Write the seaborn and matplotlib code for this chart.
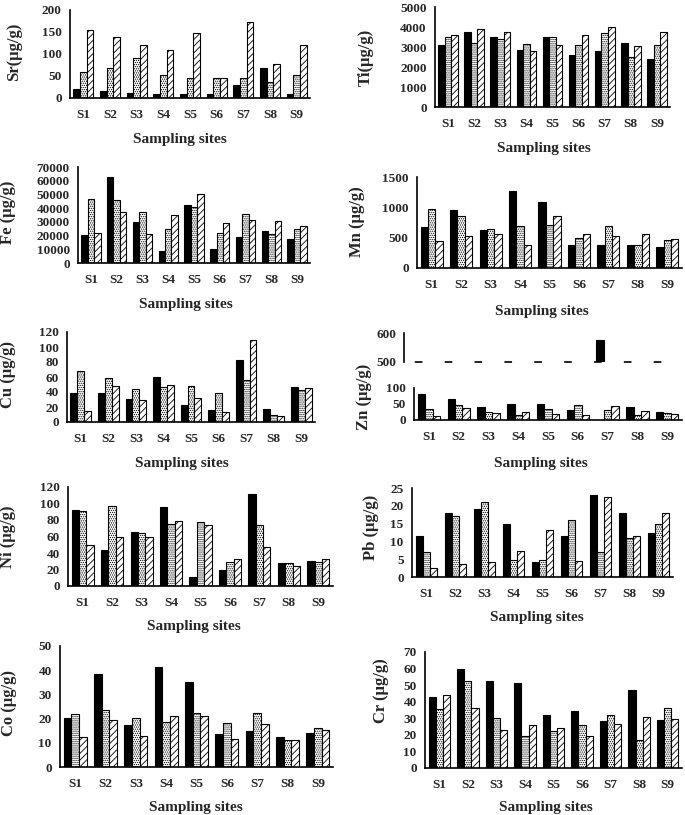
import numpy as np
import pandas as pd
import matplotlib
matplotlib.use("Agg")
import matplotlib.pyplot as plt
from matplotlib.ticker import StrMethodFormatter
import seaborn as sns

sites = ["S1", "S2", "S3", "S4", "S5", "S6", "S7", "S8", "S9"]
series_names = ["Series 1", "Series 2", "Series 3"]

sr_1 = [20, 15, 12, 10, 8, 8, 30, 68, 10]
sr_2 = [60, 68, 90, 53, 46, 45, 45, 37, 52]
sr_3 = [155, 138, 121, 110, 148, 45, 173, 77, 120]

ti_1 = [3100, 3750, 3500, 2850, 3500, 2580, 2800, 3200, 2420]
ti_2 = [3480, 3200, 3400, 3130, 3500, 3120, 3700, 2520, 3080]
ti_3 = [3620, 3880, 3730, 2820, 3120, 3580, 3980, 3050, 3730]

fe_1 = [20500, 63000, 30000, 8500, 42500, 10500, 19000, 23000, 17500]
fe_2 = [47000, 46000, 37000, 24500, 41000, 22000, 36000, 21500, 25000]
fe_3 = [22000, 37500, 21000, 35000, 50000, 29000, 31500, 30500, 27000]

mn_1 = [680, 960, 620, 1275, 1088, 385, 385, 385, 346]
mn_2 = [972, 850, 643, 687, 714, 495, 687, 385, 467]
mn_3 = [440, 522, 566, 374, 863, 566, 533, 566, 483]

cu_1 = [39, 39, 31, 60, 23, 15.5, 83, 17, 47]
cu_2 = [68, 58.7, 43.5, 47, 47.5, 38.7, 56.5, 10, 42.7]
cu_3 = [14.7, 48.4, 29.8, 50, 32, 13.3, 110, 7.5, 45.8]

zn_1 = [82, 66, 42, 50, 50, 32, 575, 40, 24]
zn_2 = [35, 46, 26, 16, 34, 46, 31, 15, 21]
zn_3 = [13, 37, 21, 24, 18, 16, 45, 28, 18]

ni_1 = [92, 43.5, 65, 96, 10.5, 20, 111, 28, 30]
ni_2 = [90.6, 97, 64.4, 75.7, 77, 28.6, 74.5, 27.4, 29.4]
ni_3 = [50, 59.6, 58.8, 78.5, 74.5, 32.6, 47.5, 24.6, 32.2]

pb_1 = [11.5, 18, 19, 15, 4.3, 11.5, 23.1, 18, 12.3]
pb_2 = [6.9, 17, 21, 4.9, 4.7, 15.9, 6.9, 11, 15]
pb_3 = [2.6, 3.6, 4.3, 7.2, 13.1, 4.5, 22.5, 11.4, 18]

co_1 = [20.2, 38.3, 17.2, 41.2, 35, 13.7, 15, 12.4, 14]
co_2 = [21.8, 23.6, 20.2, 18.5, 22.3, 18.1, 22.3, 11.3, 16.1]
co_3 = [12.2, 19.5, 13, 20.9, 20.9, 11.7, 17.6, 11.3, 15.1]

cr_1 = [43, 60, 52.5, 51.3, 31.8, 34.4, 28.2, 46.9, 29.2]
cr_2 = [35.4, 52.7, 30.4, 19.3, 22.1, 26.2, 31.8, 17.1, 36.4]
cr_3 = [44.3, 36.2, 22.7, 26.2, 24.1, 19.3, 26.8, 30.8, 29.8]

sns.set_style("white")
plt.rcParams["font.family"] = ["Liberation Serif", "DejaVu Serif"]
plt.rcParams["font.weight"] = "bold"
plt.rcParams["hatch.linewidth"] = 0.6

W, H = 685, 815
fig = plt.figure(figsize=(W / 100, H / 100), dpi=100)


def rect(l, r, t, b):
    return [l / W, 1 - b / H, (r - l) / W, (b - t) / H]


def bars(ax, s1, s2, s3):
    df = pd.DataFrame({
        "site": sites * 3,
        "series": np.repeat(series_names, len(sites)),
        "value": list(s1) + list(s2) + list(s3),
    })
    sns.barplot(data=df, x="site", y="value", hue="series", order=sites,
                hue_order=series_names, palette=["black", "white", "white"],
                width=0.75, gap=0, errorbar=None, legend=False,
                edgecolor="black", linewidth=0.8, saturation=1, ax=ax)
    for cont, hatch in zip(ax.containers, [None, "........", "/////"]):
        for p in cont:
            p.set_hatch(hatch)


def style(ax, ymax, step, ylabel, lab_xy, xlab_xy, ymin=0):
    ax.set_xlim(-0.5, 8.5)
    ax.set_ylim(ymin, ymax)
    ax.set_yticks(np.arange(ymin, ymax + 1, step))
    ax.yaxis.set_major_formatter(StrMethodFormatter("{x:.0f}"))
    sns.despine(ax=ax)
    for s in ("left", "bottom"):
        ax.spines[s].set_linewidth(1.2)
        ax.spines[s].set_color("black")
    ax.set_xticks(range(len(sites)))
    ax.set_xticklabels(sites)
    ax.set_xticks(np.arange(-0.5, len(sites), 1), minor=True)
    ax.tick_params(axis="x", which="major", length=0, pad=8, labelsize=9.5)
    ax.tick_params(axis="x", which="minor", length=4, width=1.2, direction="out", color="black")
    ax.tick_params(axis="y", length=4, width=1.2, direction="out", pad=2, labelsize=9.5, color="black")
    ax.set_ylabel(ylabel, fontsize=12, fontweight="bold")
    # label anchor is the text's right edge; shift from centre by half its height
    ax.yaxis.set_label_coords((lab_xy[0] + 7) / W, 1 - lab_xy[1] / H, transform=fig.transFigure)
    if xlab_xy is not None:
        ax.set_xlabel("Sampling sites", fontsize=11, fontweight="bold")
        ax.xaxis.set_label_coords(xlab_xy[0] / W, 1 - (xlab_xy[1] - 4) / H, transform=fig.transFigure)
    else:
        ax.set_xlabel("")


# Sr
ax = fig.add_axes(rect(70, 310, 10, 98))
bars(ax, sr_1, sr_2, sr_3)
style(ax, 200, 50, "Sr(µg/g)", (15, 52), (180, 137))

# Ti
ax = fig.add_axes(rect(435, 670, 7, 107))
bars(ax, ti_1, ti_2, ti_3)
style(ax, 5000, 1000, "Ti(µg/g)", (367, 57), (544, 146))

# Fe
ax = fig.add_axes(rect(78, 310, 167, 263))
bars(ax, fe_1, fe_2, fe_3)
style(ax, 70000, 10000, "Fe (µg/g)", (9, 212), (186, 302))

# Mn
ax = fig.add_axes(rect(417, 682, 177, 268))
bars(ax, mn_1, mn_2, mn_3)
style(ax, 1500, 500, "Mn (µg/g)", (358, 222), (542, 309))

# Cu
ax = fig.add_axes(rect(67, 315, 332, 422))
bars(ax, cu_1, cu_2, cu_3)
style(ax, 120, 20, "Cu (µg/g)", (9, 375), (182, 461))

# Zn (broken axis)
zn_break = 100
zn_1_low = [v if v <= zn_break else np.nan for v in zn_1]
ax = fig.add_axes(rect(414, 682, 388, 420))
bars(ax, zn_1_low, zn_2, zn_3)
style(ax, 100, 50, "Zn (µg/g)", (365, 397), (541, 461))

axu = fig.add_axes(rect(414, 682, 333, 362))
bars(axu, zn_1, zn_2, zn_3)
style(axu, 600, 100, "", (365, 397), None, ymin=500)
axu.set_ylabel("")
axu.set_xticklabels([])
axu.tick_params(axis="x", which="both", length=0)
axu.spines["left"].set_position(("outward", 7))
lw = 1.2
axu.spines["bottom"].set_linewidth(lw)
axu.spines["bottom"].set_linestyle((-1.0, (4.3 / lw, 17.2 / lw)))

# Ni
ax = fig.add_axes(rect(68, 333, 487, 586))
bars(ax, ni_1, ni_2, ni_3)
style(ax, 120, 20, "Ni (µg/g)", (9, 537), (194, 624))

# Pb
ax = fig.add_axes(rect(412, 673, 488, 577))
bars(ax, pb_1, pb_2, pb_3)
style(ax, 25, 5, "Pb (µg/g)", (372, 527), (537, 615))

# Co
ax = fig.add_axes(rect(60, 333, 646, 767))
bars(ax, co_1, co_2, co_3)
style(ax, 50, 10, "Co (µg/g)", (10, 703), (196, 805))

# Cr
ax = fig.add_axes(rect(425, 682, 652, 768))
bars(ax, cr_1, cr_2, cr_3)
style(ax, 70, 10, "Cr (µg/g)", (382, 691), (546, 805))

fig.savefig("out.png", dpi=100, facecolor="white")
